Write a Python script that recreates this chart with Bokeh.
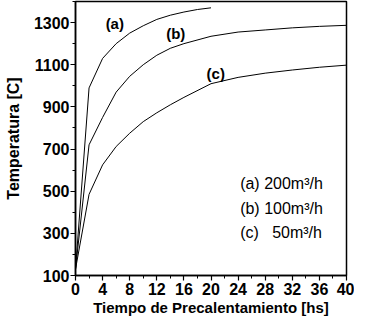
from bokeh.plotting import figure
from bokeh.models import Range1d, FixedTicker
from bokeh.core.properties import value
from bokeh.embed import file_html
from bokeh.resources import INLINE

# Data (time in hours, temperature in C)
time_a = [0, 2, 4, 6, 8, 10, 12, 14, 16, 18, 20]
temp_a = [130, 990, 1130, 1200, 1250, 1285, 1315, 1335, 1350, 1362, 1370]

time_b = [0, 2, 4, 6, 8, 10, 12, 14, 16, 20, 24, 28, 32, 36, 40]
temp_b = [130, 720, 850, 970, 1045, 1100, 1145, 1178, 1200, 1235, 1255, 1265, 1275, 1282, 1287]

time_c = [0, 2, 4, 6, 8, 10, 12, 14, 16, 20, 24, 28, 32, 36, 40]
temp_c = [130, 485, 625, 712, 775, 830, 872, 910, 945, 1010, 1040, 1060, 1075, 1088, 1098]

curve_labels = ["(a)", "(b)", "(c)"]
curve_label_x = [5.8, 14.8, 20.7]
curve_label_y = [1295, 1248, 1060]

legend_texts = ["(a) 200m\u00b3/h", "(b) 100m\u00b3/h", "(c) \u200750m\u00b3/h"]
legend_x = [24.3, 24.3, 24.3]
legend_y = [535, 418, 305]

x_ticks = [0, 4, 8, 12, 16, 20, 24, 28, 32, 36, 40]
y_ticks = [100, 300, 500, 700, 900, 1100, 1300]

FONT = "Liberation Sans"

p = figure(width=354, height=318, output_backend="svg", toolbar_location=None,
           x_range=Range1d(0, 40), y_range=Range1d(100, 1400),
           min_border_left=75, min_border_right=8, min_border_top=1, min_border_bottom=30)

p.xgrid.visible = False
p.ygrid.visible = False
p.outline_line_color = "black"
p.outline_line_width = 1.5
p.background_fill_color = "white"
p.border_fill_color = "white"

p.xaxis.ticker = FixedTicker(ticks=x_ticks, minor_ticks=list(range(0, 41, 2)))
p.yaxis.ticker = FixedTicker(ticks=y_ticks, minor_ticks=list(range(100, 1401, 100)))

for ax in (p.xaxis[0], p.yaxis[0]):
    ax.axis_line_color = "black"
    ax.axis_line_width = 1.5
    ax.major_tick_line_color = "black"
    ax.minor_tick_line_color = "black"
    ax.major_tick_line_width = 1.2
    ax.major_tick_out = 5
    ax.major_tick_in = 0
    ax.minor_tick_out = 3
    ax.minor_tick_in = 0
    ax.major_label_text_font = FONT
    ax.major_label_text_font_style = "bold"
    ax.major_label_text_font_size = "16px"
    ax.major_label_text_color = "black"
    ax.axis_label_text_font = FONT
    ax.axis_label_text_font_style = "bold"
    ax.axis_label_text_color = "black"

p.xaxis.major_label_standoff = 2
p.xaxis.axis_label = "Tiempo de Precalentamiento [hs]"
p.xaxis.axis_label_text_font_size = "15px"
p.xaxis.axis_label_standoff = 1
p.yaxis.major_label_standoff = 1
p.yaxis.axis_label = "Temperatura [C]"
p.yaxis.axis_label_text_font_size = "16px"
p.yaxis.axis_label_standoff = 9

p.line(time_a, temp_a, line_color="black", line_width=1)
p.line(time_b, temp_b, line_color="black", line_width=1)
p.line(time_c, temp_c, line_color="black", line_width=1)

p.text(x=curve_label_x, y=curve_label_y, text=curve_labels,
       text_font=value(FONT), text_font_style="bold", text_font_size="15px",
       text_align="center", text_baseline="middle", text_color="black")

p.text(x=legend_x, y=legend_y, text=legend_texts,
       text_font=value(FONT), text_font_size="16px",
       text_align="left", text_baseline="middle", text_color="black")

open("out.html", "w").write(file_html(p, INLINE))
